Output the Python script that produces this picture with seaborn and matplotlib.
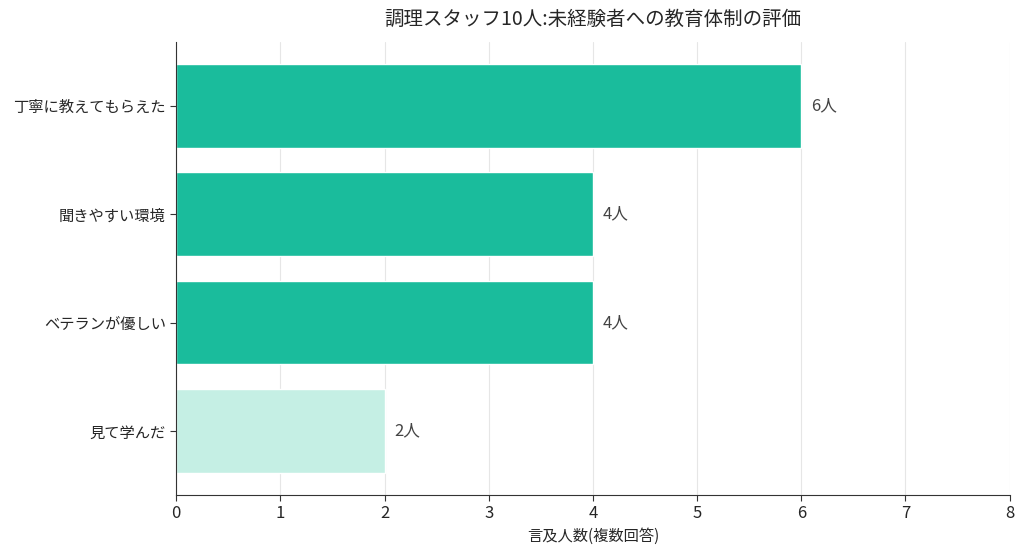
import matplotlib
matplotlib.use("Agg")
import matplotlib.pyplot as plt
import seaborn as sns
import pandas as pd

categories = ["丁寧に教えてもらえた", "聞きやすい環境", "ベテランが優しい", "見て学んだ"]
counts = [6, 4, 4, 2]
bar_colors = ["#1abc9c", "#1abc9c", "#1abc9c", "#c5efe4"]

sns.set_style("white")
plt.rcParams["font.family"] = ["Noto Sans CJK JP", "DejaVu Sans"]
plt.rcParams["axes.unicode_minus"] = False

df = pd.DataFrame({"項目": categories, "人数": counts})

fig = plt.figure(figsize=(10.24, 5.5), dpi=100)
ax = fig.add_axes([0.172, 0.1, 0.814, 0.824])

sns.barplot(data=df, x="人数", y="項目", hue="項目", palette=bar_colors,
            saturation=1, legend=False, width=0.77, edgecolor="white",
            linewidth=1, ax=ax)

for i, v in enumerate(counts):
    ax.text(v + 0.09, i, f"{v}人", va="center", ha="left", fontsize=12, color="#444444")

ax.set_xlim(0, 8)
ax.set_ylim(3.59, -0.59)
ax.set_xticks(range(0, 9))
ax.grid(axis="x", color="#e6e6e6", linewidth=0.8)
ax.set_axisbelow(True)
ax.tick_params(axis="x", bottom=True, labelsize=12, length=4, color="#333333")
ax.tick_params(axis="y", left=True, labelsize=11, length=4, color="#333333")
ax.set_ylabel("")
ax.set_xlabel("言及人数(複数回答)", fontsize=11, labelpad=4)
for s in ["top", "right"]:
    ax.spines[s].set_visible(False)
for s in ["left", "bottom"]:
    ax.spines[s].set_color("#333333")
ax.set_title("調理スタッフ10人:未経験者への教育体制の評価", fontsize=14, pad=12)

fig.savefig("out.png", dpi=100)
